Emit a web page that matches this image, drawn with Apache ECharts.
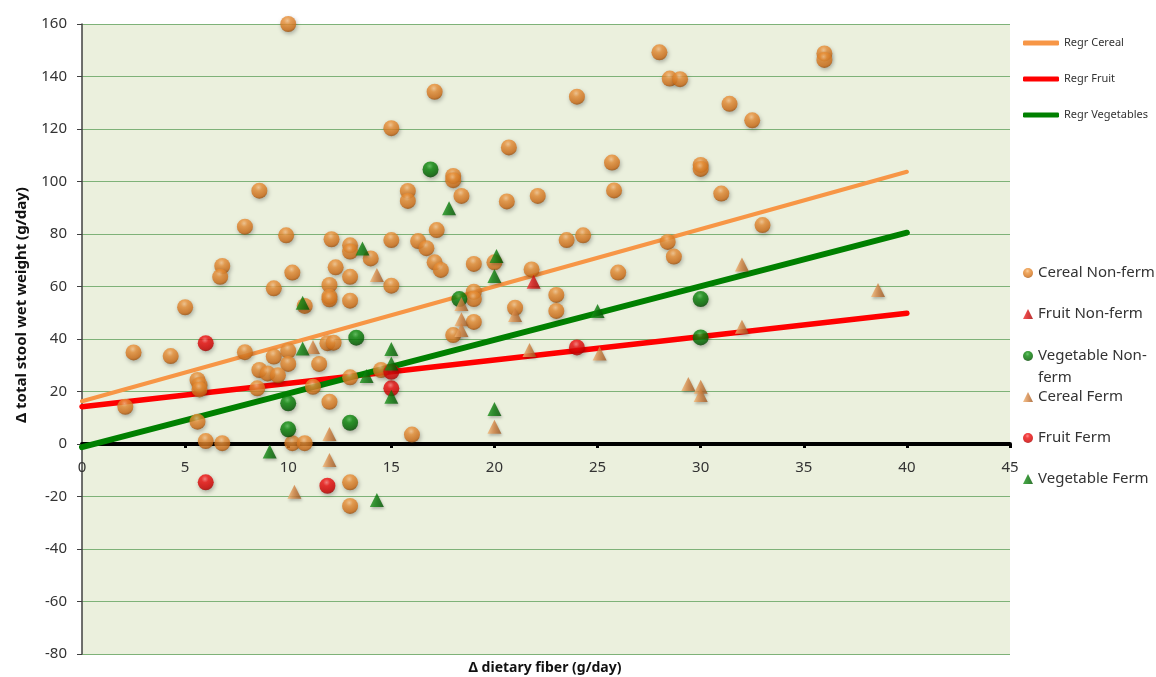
<!DOCTYPE html>
<html>
<head>
<meta charset="utf-8">
<script src="https://cdn.jsdelivr.net/npm/echarts@6/dist/echarts.min.js"></script>
<style>
body { margin: 0; background: #fff; }
#main { width: 1156px; height: 677px; }
</style>
</head>
<body>
<div id="main"></div>
<script>
// axis ticks
var xTicks = [0, 5, 10, 15, 20, 25, 30, 35, 40, 45];
var yTicks = [-80, -60, -40, -20, 0, 20, 40, 60, 80, 100, 120, 140, 160];

// [dietary fiber, stool weight]
var cerealNonFerm = [
  [10, 160], [15, 120.3], [8.6, 96.5], [7.9, 82.8], [9.9, 79.5], [12.1, 78], [13, 75.7], [13, 73.3], [15, 77.7],
  [28, 149.2], [28.5, 139.2], [29, 139], [31.4, 129.6], [32.5, 123.3], [17.1, 134.2], [24, 132.3],
  [20.7, 113], [25.7, 107.2], [30, 106.3], [30, 104.8], [18, 102.1], [18, 100.5], [15.8, 96.4], [15.8, 92.6],
  [18.4, 94.5], [20.6, 92.4], [22.1, 94.5], [25.8, 96.6], [31, 95.4], [33, 83.4], [17.2, 81.5], [16.3, 77.3],
  [16.7, 74.6], [23.5, 77.7], [24.3, 79.5], [28.4, 77], [36, 148.8], [36, 146.3],
  [14, 70.7], [6.8, 67.8], [6.7, 63.7], [10.2, 65.3], [12.3, 67.3], [12, 60.6], [13, 63.7], [9.3, 59.3],
  [15, 60.3], [12, 56.1], [12, 55.1], [13, 54.6], [5, 52.1], [10.8, 52.6],
  [2.5, 34.9], [4.3, 33.5], [7.9, 35], [9.3, 33.3], [10, 35.5], [10, 30.5], [8.6, 28.2], [9, 26.9], [9.5, 26.2],
  [11.5, 30.5], [11.9, 38.4], [12.2, 38.6], [5.6, 24.4], [5.7, 22.5], [5.7, 20.8], [8.5, 21.2], [11.2, 21.8],
  [13, 25.4], [12, 16.1], [2.1, 14.2], [5.6, 8.5], [6, 1.1], [6.8, 0.3], [10.2, 0.3], [10.8, 0.3], [14.5, 28.2],
  [17.1, 69.2], [17.4, 66.3], [19, 68.6], [20, 69.2], [21.8, 66.5], [26, 65.3], [28.7, 71.4], [19, 58], [19, 55.2],
  [23, 56.8], [23, 50.7], [21, 51.9], [19, 46.5], [18, 41.5], [16, 3.6], [13, -14.6], [13, -23.6]
];
var fruitNonFerm = [[21.9, 61.8]];
var vegNonFerm = [[16.9, 104.6], [18.3, 55.2], [30, 55.2], [30, 40.6], [13.3, 40.5], [10, 15.5], [10, 5.6], [13, 8.1]];
var cerealFerm = [
  [14.3, 64.4], [11.2, 37], [12, 3.8], [12, -6.1], [18.4, 53.3], [18.4, 47.5], [18.4, 43.4], [21, 49.1],
  [21.7, 35.8], [25.1, 34.5], [20, 6.6], [29.4, 22.9], [30, 21.8], [30, 18.7], [32, 68.4], [32, 44.7],
  [38.6, 58.7], [10.3, -18.2]
];
var fruitFerm = [[6, 38.4], [15, 21.2], [15, 27.5], [24, 36.8], [6, -14.6], [11.9, -15.9]];
var vegFerm = [
  [17.8, 89.8], [13.6, 74.5], [10.7, 53.8], [10.7, 36.4], [13.8, 25.9], [15, 36.2], [15, 30.7], [15, 18],
  [20.1, 71.6], [20, 64], [20, 13.3], [25, 50.7], [9.1, -2.9], [14.3, -21.3]
];

// regression lines, end points
var regrCereal = [[0, 16.3], [40, 103.7]];
var regrFruit = [[0, 14.2], [40, 49.8]];
var regrVeg = [[0, -1.2], [40, 80.5]];

var font = 'Noto Sans';

function ball(c0, c1, c2, c3) {
  return {
    color: { type: 'radial', x: 0.45, y: 0.3, r: 0.72,
      colorStops: [{ offset: 0, color: c0 }, { offset: 0.3, color: c1 }, { offset: 0.78, color: c2 }, { offset: 1, color: c3 }] },
    shadowBlur: 4, shadowColor: 'rgba(0,0,0,0.35)', shadowOffsetX: 1, shadowOffsetY: 2
  };
}
function cone(c0, c1, c2) {
  return {
    color: { type: 'linear', x: 0, y: 0, x2: 1, y2: 0,
      colorStops: [{ offset: 0, color: c0 }, { offset: 0.5, color: c1 }, { offset: 1, color: c2 }] },
    shadowBlur: 3, shadowColor: 'rgba(0,0,0,0.3)', shadowOffsetX: 1, shadowOffsetY: 2
  };
}

function regr(name, data, color, width) {
  return {
    name: name, type: 'line', data: data, symbol: 'none', z: 1,
    lineStyle: { color: color, width: width, cap: 'round' },
    itemStyle: { color: color }
  };
}
function dots(name, data, symbol, size, style) {
  return { name: name, type: 'scatter', data: data, symbol: symbol, symbolSize: size, itemStyle: style, z: 3 };
}

var legText = { fontFamily: font, fontSize: 15, color: '#333', lineHeight: 20 };

var option = {
  animation: false,
  grid: { left: 82, right: 146, top: 24, bottom: 23, show: true, backgroundColor: '#ebf0dd', borderWidth: 0,
          outerBoundsMode: 'none' },
  xAxis: {
    type: 'value', min: xTicks[0], max: xTicks[xTicks.length - 1], interval: 5,
    position: 'bottom', offset: -210,
    axisLine: { onZero: false, lineStyle: { color: '#000', width: 4 } },
    axisTick: { show: true, length: 4, lineStyle: { color: '#000', width: 3 } },
    axisLabel: { margin: 16, fontFamily: font, fontSize: 15, color: '#333' },
    splitLine: { show: false }
  },
  yAxis: {
    type: 'value', min: yTicks[0], max: yTicks[yTicks.length - 1], interval: 20,
    axisLine: { show: true, onZero: false, lineStyle: { color: '#404040', width: 1.5 } },
    axisTick: { show: true, length: 5, lineStyle: { color: '#404040' } },
    axisLabel: { margin: 15, fontFamily: font, fontSize: 15, color: '#333' },
    splitLine: { lineStyle: { color: '#7eb278', width: 1 } }
  },
  legend: [
    { orient: 'vertical', left: 1023, top: 36, padding: 0, itemWidth: 36, itemHeight: 5, itemGap: 22,
      icon: 'roundRect', textStyle: { fontFamily: font, fontSize: 11, color: '#333', lineHeight: 14 },
      data: ['Regr Cereal', 'Regr Fruit', 'Regr Vegetables'] },
    { orient: 'vertical', left: 1023, top: 263, padding: 0, itemWidth: 10, itemHeight: 10, itemGap: 21,
      textStyle: legText,
      data: [{ name: 'Cereal Non-ferm', icon: 'circle' }, { name: 'Fruit Non-ferm', icon: 'triangle' }] },
    { orient: 'vertical', left: 1023, top: 323, padding: 0, itemWidth: 10, itemHeight: 10,
      textStyle: { fontFamily: font, fontSize: 15, color: '#333', lineHeight: 22 },
      formatter: function () { return ' \nVegetable Non-\nferm'; },
      data: [{ name: 'Vegetable Non-ferm', icon: 'circle' }] },
    { orient: 'vertical', left: 1023, top: 387, padding: 0, itemWidth: 10, itemHeight: 10, itemGap: 21,
      textStyle: legText,
      data: [{ name: 'Cereal Ferm', icon: 'triangle' }, { name: 'Fruit Ferm', icon: 'circle' },
             { name: 'Vegetable Ferm', icon: 'triangle' }] }
  ],
  graphic: [
    { type: 'text', x: 22, y: 305, rotation: Math.PI / 2,
      style: { text: 'Δ total stool wet weight (g/day)', font: 'bold 15px "Noto Sans"', fill: '#111', align: 'center', verticalAlign: 'middle' } },
    { type: 'text', x: 545, y: 668,
      style: { text: 'Δ dietary fiber (g/day)', font: 'bold 14px "Noto Sans"', fill: '#111', align: 'center', verticalAlign: 'middle' } }
  ],
  series: [
    regr('Regr Cereal', regrCereal, '#f79646', 4),
    regr('Regr Fruit', regrFruit, '#ff0000', 5.5),
    regr('Regr Vegetables', regrVeg, '#008000', 6),
    dots('Cereal Non-ferm', cerealNonFerm, 'circle', 16, ball('#f9c48a', '#ec933a', '#d2711a', '#944a0a')),
    dots('Fruit Non-ferm', fruitNonFerm, 'triangle', 14, cone('#f03030', '#d41010', '#a00000')),
    dots('Vegetable Non-ferm', vegNonFerm, 'circle', 16, ball('#4cb84c', '#0c8a0c', '#006400', '#003c00')),
    dots('Cereal Ferm', cerealFerm, 'triangle', 14, cone('#f2b574', '#d28342', '#9a5520')),
    dots('Fruit Ferm', fruitFerm, 'circle', 16, ball('#ff7070', '#f01010', '#d00000', '#960000')),
    dots('Vegetable Ferm', vegFerm, 'triangle', 14, cone('#1c921c', '#0a7a0a', '#005000'))
  ]
};

var myChart = echarts.init(document.getElementById('main'));
myChart.setOption(option);
</script>
</body>
</html>
